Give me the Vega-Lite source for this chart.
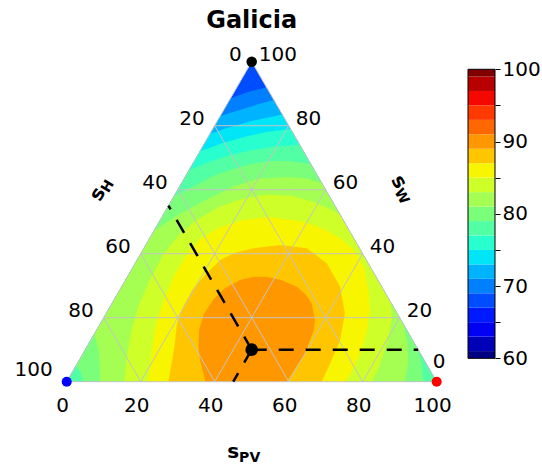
{
  "$schema": "https://vega.github.io/schema/vega-lite/v6.json",
  "padding": 0,
  "autosize": {"type": "pad"},
  "spacing": 7,
  "config": {"view": {"stroke": null}, "font": "DejaVu Sans"},
  "datasets": {
    "contours": [
      {"lvl":68,"i":0,"x":0,"w":0},{"lvl":68,"i":1,"x":100,"w":0},{"lvl":68,"i":2,"x":50,"w":100},
      {"lvl":70,"i":0,"x":0,"w":0},{"lvl":70,"i":1,"x":100,"w":0},{"lvl":70,"i":2,"x":54,"w":92},{"lvl":70,"i":3,"x":49,"w":90.5},{"lvl":70,"i":4,"x":44.25,"w":88.5},
      {"lvl":72,"i":0,"x":0,"w":0},{"lvl":72,"i":1,"x":100,"w":0},{"lvl":72,"i":2,"x":56,"w":88},{"lvl":72,"i":3,"x":52,"w":86.8},{"lvl":72,"i":4,"x":47,"w":85},{"lvl":72,"i":5,"x":41.5,"w":83},
      {"lvl":74,"i":0,"x":0,"w":0},{"lvl":74,"i":1,"x":100,"w":0},{"lvl":74,"i":2,"x":58.25,"w":83.5},{"lvl":74,"i":3,"x":50,"w":81.5},{"lvl":74,"i":4,"x":44,"w":79.5},{"lvl":74,"i":5,"x":38.75,"w":77.5},
      {"lvl":76,"i":0,"x":0,"w":0},{"lvl":76,"i":1,"x":100,"w":0},{"lvl":76,"i":2,"x":60.5,"w":79},{"lvl":76,"i":3,"x":54,"w":78},{"lvl":76,"i":4,"x":48,"w":76.5},{"lvl":76,"i":5,"x":42,"w":74.5},{"lvl":76,"i":6,"x":36,"w":72},
      {"lvl":78,"i":0,"x":0,"w":0},{"lvl":78,"i":1,"x":99.3,"w":0},{"lvl":78,"i":2,"x":99.25,"w":1.5},{"lvl":78,"i":3,"x":63,"w":74},{"lvl":78,"i":4,"x":56,"w":73.5},{"lvl":78,"i":5,"x":50,"w":72.3},{"lvl":78,"i":6,"x":44,"w":70.8},{"lvl":78,"i":7,"x":38,"w":68.5},{"lvl":78,"i":8,"x":33,"w":66},
      {"lvl":80,"i":0,"x":4.4,"w":0},{"lvl":80,"i":1,"x":96.4,"w":0},{"lvl":80,"i":2,"x":96,"w":5},{"lvl":80,"i":3,"x":95,"w":10},{"lvl":80,"i":4,"x":66,"w":68},{"lvl":80,"i":5,"x":60,"w":69},{"lvl":80,"i":6,"x":55,"w":69},{"lvl":80,"i":7,"x":50,"w":68},{"lvl":80,"i":8,"x":45,"w":66.5},{"lvl":80,"i":9,"x":40,"w":64.5},{"lvl":80,"i":10,"x":35,"w":61.5},{"lvl":80,"i":11,"x":29,"w":58},{"lvl":80,"i":12,"x":2.5,"w":5},{"lvl":80,"i":13,"x":4,"w":2.5},
      {"lvl":82,"i":0,"x":9.1,"w":0},{"lvl":82,"i":1,"x":91.3,"w":0},{"lvl":82,"i":2,"x":92.3,"w":6},{"lvl":82,"i":3,"x":92,"w":12},{"lvl":82,"i":4,"x":91,"w":18},{"lvl":82,"i":5,"x":69,"w":62},{"lvl":82,"i":6,"x":65,"w":63.5},{"lvl":82,"i":7,"x":60,"w":64},{"lvl":82,"i":8,"x":52,"w":63.5},{"lvl":82,"i":9,"x":45,"w":61},{"lvl":82,"i":10,"x":38,"w":57},{"lvl":82,"i":11,"x":30,"w":52},{"lvl":82,"i":12,"x":23.5,"w":47},{"lvl":82,"i":13,"x":7.5,"w":15},{"lvl":82,"i":14,"x":8.6,"w":10},{"lvl":82,"i":15,"x":9,"w":5},
      {"lvl":84,"i":0,"x":15.6,"w":0},{"lvl":84,"i":1,"x":82.4,"w":0},{"lvl":84,"i":2,"x":84,"w":3.5},{"lvl":84,"i":3,"x":85.5,"w":8},{"lvl":84,"i":4,"x":87,"w":14},{"lvl":84,"i":5,"x":88,"w":20},{"lvl":84,"i":6,"x":87.5,"w":25},{"lvl":84,"i":7,"x":74,"w":52},{"lvl":84,"i":8,"x":72,"w":53.5},{"lvl":84,"i":9,"x":67,"w":56},{"lvl":84,"i":10,"x":61,"w":58},{"lvl":84,"i":11,"x":54,"w":58.5},{"lvl":84,"i":12,"x":47,"w":57},{"lvl":84,"i":13,"x":41,"w":54.5},{"lvl":84,"i":14,"x":35,"w":50.5},{"lvl":84,"i":15,"x":30,"w":45.5},{"lvl":84,"i":16,"x":26,"w":39.5},{"lvl":84,"i":17,"x":22.5,"w":32},{"lvl":84,"i":18,"x":19.5,"w":24},{"lvl":84,"i":19,"x":17.5,"w":16},{"lvl":84,"i":20,"x":16.3,"w":8},
      {"lvl":86,"i":0,"x":22,"w":0},{"lvl":86,"i":1,"x":75.4,"w":0},{"lvl":86,"i":2,"x":77,"w":3},{"lvl":86,"i":3,"x":79,"w":8},{"lvl":86,"i":4,"x":81,"w":15},{"lvl":86,"i":5,"x":82,"w":22},{"lvl":86,"i":6,"x":81.5,"w":29},{"lvl":86,"i":7,"x":80.5,"w":35},{"lvl":86,"i":8,"x":78.5,"w":40},{"lvl":86,"i":9,"x":75,"w":44},{"lvl":86,"i":10,"x":70,"w":47.5},{"lvl":86,"i":11,"x":64,"w":50},{"lvl":86,"i":12,"x":55,"w":51.5},{"lvl":86,"i":13,"x":47.5,"w":50.5},{"lvl":86,"i":14,"x":41,"w":48},{"lvl":86,"i":15,"x":36,"w":44.5},{"lvl":86,"i":16,"x":32.5,"w":40},{"lvl":86,"i":17,"x":29,"w":33},{"lvl":86,"i":18,"x":26,"w":25},{"lvl":86,"i":19,"x":24,"w":17},{"lvl":86,"i":20,"x":22.8,"w":8},
      {"lvl":88,"i":0,"x":27.5,"w":0},{"lvl":88,"i":1,"x":68.9,"w":0},{"lvl":88,"i":2,"x":71.2,"w":5.7},{"lvl":88,"i":3,"x":73.9,"w":13},{"lvl":88,"i":4,"x":75.2,"w":21.4},{"lvl":88,"i":5,"x":73.9,"w":29.7},{"lvl":88,"i":6,"x":70.3,"w":37},{"lvl":88,"i":7,"x":64.9,"w":41.7},{"lvl":88,"i":8,"x":57.6,"w":42.7},{"lvl":88,"i":9,"x":50.5,"w":41.7},{"lvl":88,"i":10,"x":45.5,"w":40.3},{"lvl":88,"i":11,"x":41.5,"w":38},{"lvl":88,"i":12,"x":37.5,"w":33.5},{"lvl":88,"i":13,"x":34,"w":28.7},{"lvl":88,"i":14,"x":31.5,"w":23.5},{"lvl":88,"i":15,"x":29.8,"w":18.2},{"lvl":88,"i":16,"x":29,"w":10},{"lvl":88,"i":17,"x":28.2,"w":5},
      {"lvl":90,"i":0,"x":37.5,"w":0},{"lvl":90,"i":1,"x":59.5,"w":0},{"lvl":90,"i":2,"x":62.6,"w":5.7},{"lvl":90,"i":3,"x":64.5,"w":9},{"lvl":90,"i":4,"x":65.8,"w":13},{"lvl":90,"i":5,"x":66.8,"w":16},{"lvl":90,"i":6,"x":67.1,"w":19.3},{"lvl":90,"i":7,"x":66.2,"w":24.5},{"lvl":90,"i":8,"x":64.5,"w":27.3},{"lvl":90,"i":9,"x":62.2,"w":29.7},{"lvl":90,"i":10,"x":58,"w":31.8},{"lvl":90,"i":11,"x":54,"w":32.8},{"lvl":90,"i":12,"x":50.5,"w":32.8},{"lvl":90,"i":13,"x":46.8,"w":31.8},{"lvl":90,"i":14,"x":42.8,"w":29.3},{"lvl":90,"i":15,"x":39.5,"w":25.5},{"lvl":90,"i":16,"x":37,"w":21},{"lvl":90,"i":17,"x":35.8,"w":16.2},{"lvl":90,"i":18,"x":35.6,"w":11},{"lvl":90,"i":19,"x":36,"w":6.8}
    ],
    "grid": [
      {"x":10,"w":20,"x2":90,"w2":20},{"x":20,"w":40,"x2":80,"w2":40},{"x":30,"w":60,"x2":70,"w2":60},{"x":40,"w":80,"x2":60,"w2":80},
      {"x":20,"w":0,"x2":60,"w2":80},{"x":40,"w":0,"x2":70,"w2":60},{"x":60,"w":0,"x2":80,"w2":40},{"x":80,"w":0,"x2":90,"w2":20},
      {"x":80,"w":0,"x2":40,"w2":80},{"x":60,"w":0,"x2":30,"w2":60},{"x":40,"w":0,"x2":20,"w2":40},{"x":20,"w":0,"x2":10,"w2":20},
      {"x":0,"w":0,"x2":100,"w2":0},{"x":100,"w":0,"x2":50,"w2":100},{"x":50,"w":100,"x2":0,"w2":0}
    ],
    "dashes": [
      {"x":50,"w":10,"x2":95,"w2":10},{"x":50,"w":10,"x2":27.5,"w2":55},{"x":50,"w":10,"x2":45,"w2":0}
    ],
    "pts": [
      {"id":"opt","x":50,"w":10},{"id":"W","x":50,"w":100},{"id":"H","x":0,"w":0},{"id":"PV","x":100,"w":0}
    ],
    "ticks": [
      {"ax":"L","t":"0","x":50,"w":100},{"ax":"L","t":"20","x":40,"w":80},{"ax":"L","t":"40","x":30,"w":60},{"ax":"L","t":"60","x":20,"w":40},{"ax":"L","t":"80","x":10,"w":20},{"ax":"L","t":"100","x":0,"w":0},
      {"ax":"R","t":"100","x":50,"w":100},{"ax":"R","t":"80","x":60,"w":80},{"ax":"R","t":"60","x":70,"w":60},{"ax":"R","t":"40","x":80,"w":40},{"ax":"R","t":"20","x":90,"w":20},{"ax":"R","t":"0","x":100,"w":0},
      {"ax":"B","t":"0","x":0,"w":0},{"ax":"B","t":"20","x":20,"w":0},{"ax":"B","t":"40","x":40,"w":0},{"ax":"B","t":"60","x":60,"w":0},{"ax":"B","t":"80","x":80,"w":0},{"ax":"B","t":"100","x":100,"w":0}
    ],
    "labels": [
      {"id":"title","t":"Galicia","x":50,"w":110.4},
      {"id":"pv_s","t":"s","x":46.6,"w":-23.9},{"id":"pv_sub","t":"PV","x":46.6,"w":-23.9},
      {"id":"h_s","t":"s","x":9.2,"w":60.2},{"id":"h_sub","t":"H","x":9.2,"w":60.2},
      {"id":"w_s","t":"s","x":90.6,"w":60.8},{"id":"w_sub","t":"W","x":90.6,"w":60.8}
    ],
    "cbar": [
      {"lo":60,"hi":61,"lvl":60},{"lo":61,"hi":63,"lvl":62},{"lo":63,"hi":65,"lvl":64},{"lo":65,"hi":67,"lvl":66},{"lo":67,"hi":69,"lvl":68},{"lo":69,"hi":71,"lvl":70},{"lo":71,"hi":73,"lvl":72},{"lo":73,"hi":75,"lvl":74},{"lo":75,"hi":77,"lvl":76},{"lo":77,"hi":79,"lvl":78},{"lo":79,"hi":81,"lvl":80},{"lo":81,"hi":83,"lvl":82},{"lo":83,"hi":85,"lvl":84},{"lo":85,"hi":87,"lvl":86},{"lo":87,"hi":89,"lvl":88},{"lo":89,"hi":91,"lvl":90},{"lo":91,"hi":93,"lvl":92},{"lo":93,"hi":95,"lvl":94},{"lo":95,"hi":97,"lvl":96},{"lo":97,"hi":99,"lvl":98},{"lo":99,"hi":100,"lvl":100}
    ]
  },
  "hconcat": [
    {
      "width": 460,
      "height": 467,
      "encoding": {
        "x": {"field": "x", "type": "quantitative", "scale": {"domain": [-18.03, 106.30], "nice": false, "zero": false}, "axis": null},
        "y": {"field": "w", "type": "quantitative", "scale": {"domain": [-26.66, 119.28], "nice": false, "zero": false}, "axis": null}
      },
      "layer": [
        {
          "data": {"name": "contours"},
          "mark": {"type": "line", "filled": true, "strokeWidth": 0},
          "encoding": {
            "order": {"field": "i", "type": "quantitative"},
            "color": {"field": "lvl", "type": "ordinal", "legend": null,
              "scale": {"domain": [60,62,64,66,68,70,72,74,76,78,80,82,84,86,88,90,92,94,96,98,100],
                        "range": ["#000080","#0000B9","#0000F3","#001AFF","#004DFF","#0080FF","#00B3FF","#00E6F7","#29FFCE","#52FFA4","#7BFF7B","#A5FF52","#CEFF29","#F7F500","#FFC600","#FF9700","#FF6800","#FF3900","#F40900","#B90000","#800000"]}}
          }
        },
        {
          "data": {"name": "grid"},
          "mark": {"type": "rule", "color": "#c4c4c4", "strokeWidth": 1},
          "encoding": {"x2": {"field": "x2"}, "y2": {"field": "w2"}}
        },
        {
          "data": {"name": "dashes"},
          "mark": {"type": "rule", "color": "black", "strokeWidth": 2.5, "strokeDash": [15, 12]},
          "encoding": {"x2": {"field": "x2"}, "y2": {"field": "w2"}}
        },
        {
          "data": {"name": "pts"},
          "transform": [{"filter": "datum.id == 'opt'"}],
          "mark": {"type": "circle", "color": "black", "opacity": 1, "size": 160},
          "encoding": {}
        },
        {
          "data": {"name": "pts"},
          "transform": [{"filter": "datum.id == 'W'"}],
          "mark": {"type": "circle", "color": "black", "opacity": 1, "size": 110},
          "encoding": {}
        },
        {
          "data": {"name": "pts"},
          "transform": [{"filter": "datum.id == 'H'"}],
          "mark": {"type": "circle", "color": "#0000ff", "opacity": 1, "size": 100},
          "encoding": {}
        },
        {
          "data": {"name": "pts"},
          "transform": [{"filter": "datum.id == 'PV'"}],
          "mark": {"type": "circle", "color": "#ff0000", "opacity": 1, "size": 100},
          "encoding": {}
        },
        {
          "data": {"name": "ticks"},
          "transform": [{"filter": "datum.ax == 'L' && datum.t != '100'"}],
          "mark": {"type": "text", "fontSize": 20, "align": "right", "baseline": "middle", "dx": -10, "dy": -7, "color": "black"},
          "encoding": {"text": {"field": "t"}}
        },
        {
          "data": {"name": "ticks"},
          "transform": [{"filter": "datum.ax == 'L' && datum.t == '100'"}],
          "mark": {"type": "text", "fontSize": 20, "align": "right", "baseline": "middle", "dx": -14, "dy": -12, "color": "black"},
          "encoding": {"text": {"field": "t"}}
        },
        {
          "data": {"name": "ticks"},
          "transform": [{"filter": "datum.ax == 'R' && datum.t != '0'"}],
          "mark": {"type": "text", "fontSize": 20, "align": "left", "baseline": "middle", "dx": 7, "dy": -7, "color": "black"},
          "encoding": {"text": {"field": "t"}}
        },
        {
          "data": {"name": "ticks"},
          "transform": [{"filter": "datum.ax == 'R' && datum.t == '0'"}],
          "mark": {"type": "text", "fontSize": 20, "align": "left", "baseline": "middle", "dx": -4, "dy": -20, "color": "black"},
          "encoding": {"text": {"field": "t"}}
        },
        {
          "data": {"name": "ticks"},
          "transform": [{"filter": "datum.ax == 'B'"}],
          "mark": {"type": "text", "fontSize": 20, "align": "center", "baseline": "middle", "dx": -4, "dy": 24, "color": "black"},
          "encoding": {"text": {"field": "t"}}
        },
        {
          "data": {"name": "labels"},
          "transform": [{"filter": "datum.id == 'title'"}],
          "mark": {"type": "text", "fontSize": 24, "fontWeight": "bold", "align": "center", "baseline": "alphabetic", "color": "black"},
          "encoding": {"text": {"field": "t"}}
        },
        {
          "data": {"name": "labels"},
          "transform": [{"filter": "datum.id == 'pv_s'"}],
          "mark": {"type": "text", "fontSize": 20, "fontWeight": "bold", "align": "right", "baseline": "alphabetic", "color": "black"},
          "encoding": {"text": {"field": "t"}}
        },
        {
          "data": {"name": "labels"},
          "transform": [{"filter": "datum.id == 'pv_sub'"}],
          "mark": {"type": "text", "fontSize": 14, "fontWeight": "bold", "align": "left", "baseline": "alphabetic", "dy": 4, "color": "black"},
          "encoding": {"text": {"field": "t"}}
        },
        {
          "data": {"name": "labels"},
          "transform": [{"filter": "datum.id == 'h_s'"}],
          "mark": {"type": "text", "fontSize": 20, "fontWeight": "bold", "align": "right", "baseline": "middle", "angle": -60, "color": "black"},
          "encoding": {"text": {"field": "t"}}
        },
        {
          "data": {"name": "labels"},
          "transform": [{"filter": "datum.id == 'h_sub'"}],
          "mark": {"type": "text", "fontSize": 14, "fontWeight": "bold", "align": "left", "baseline": "middle", "angle": -60, "dy": 5, "color": "black"},
          "encoding": {"text": {"field": "t"}}
        },
        {
          "data": {"name": "labels"},
          "transform": [{"filter": "datum.id == 'w_s'"}],
          "mark": {"type": "text", "fontSize": 20, "fontWeight": "bold", "align": "right", "baseline": "middle", "angle": 60, "color": "black"},
          "encoding": {"text": {"field": "t"}}
        },
        {
          "data": {"name": "labels"},
          "transform": [{"filter": "datum.id == 'w_sub'"}],
          "mark": {"type": "text", "fontSize": 14, "fontWeight": "bold", "align": "left", "baseline": "middle", "angle": 60, "dy": 5, "color": "black"},
          "encoding": {"text": {"field": "t"}}
        }
      ]
    },
    {
      "width": 27,
      "height": 467,
      "layer": [
        {
          "data": {"name": "cbar"},
          "mark": {"type": "rect"},
          "encoding": {
            "y": {"field": "lo", "type": "quantitative", "scale": {"domain": [44.96, 109.59], "nice": false, "zero": false},
                  "axis": {"orient": "right", "values": [60,65,70,75,80,85,90,95,100], "labelExpr": "datum.value % 10 == 0 ? datum.label : ''",
                           "title": null, "domain": false, "grid": false, "tickSize": 5, "tickColor": "black", "tickWidth": 1,
                           "labelFont": "DejaVu Sans", "labelFontSize": 20, "labelColor": "black", "labelPadding": 2, "labelFlush": false, "labelBound": false, "labelOverlap": false}},
            "y2": {"field": "hi"},
            "color": {"field": "lvl", "type": "ordinal", "legend": null,
              "scale": {"domain": [60,62,64,66,68,70,72,74,76,78,80,82,84,86,88,90,92,94,96,98,100],
                        "range": ["#000080","#0000B9","#0000F3","#001AFF","#004DFF","#0080FF","#00B3FF","#00E6F7","#29FFCE","#52FFA4","#7BFF7B","#A5FF52","#CEFF29","#F7F500","#FFC600","#FF9700","#FF6800","#FF3900","#F40900","#B90000","#800000"]}}
          }
        },
        {
          "data": {"values": [{"a": 1}]},
          "mark": {"type": "rect", "fill": null, "fillOpacity": 0, "stroke": "black", "strokeWidth": 1},
          "encoding": {"y": {"datum": 60, "type": "quantitative"}, "y2": {"datum": 100}}
        }
      ]
    }
  ]
}
